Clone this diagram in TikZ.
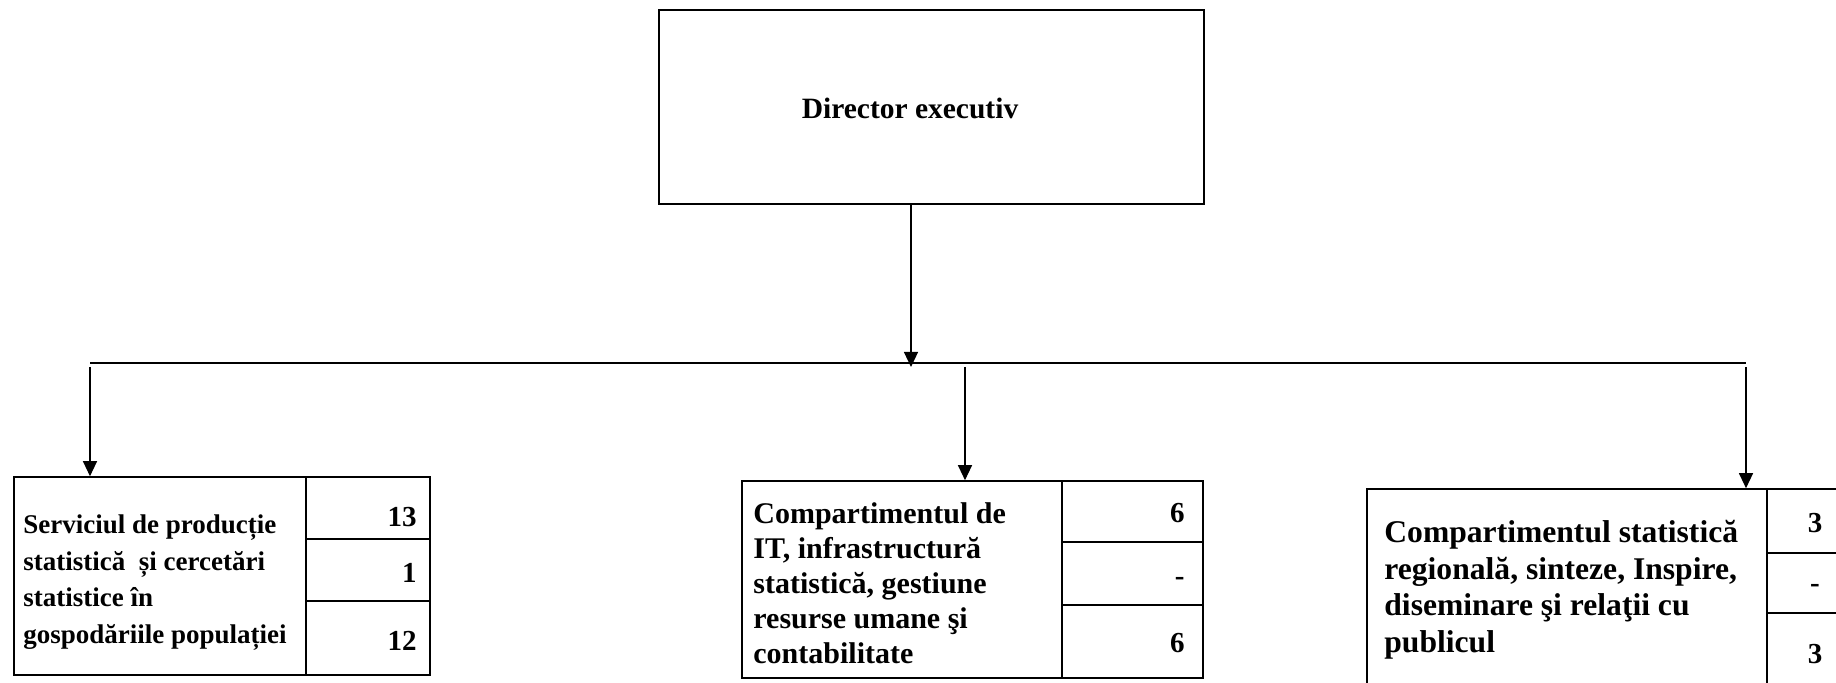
\documentclass[tikz,border=0pt]{standalone}
\usepackage{fontspec}
\setmainfont{Liberation Serif}
\usetikzlibrary{arrows.meta,positioning}
\tikzstyle{link} = [line width=0.6pt,-{Triangle[width=7pt,length=7.5pt]}]
\tikzstyle{busline} = [line width=0.6pt]
\tikzstyle{headbox} = [rectangle, draw, line width=1.1pt, inner sep=0pt]
\tikzstyle{unitbox} = [rectangle, draw, line width=0.8pt, inner sep=0pt]
\tikzstyle{unitline} = [line width=0.7pt]
\tikzstyle{unittext} = [inner sep=0pt, anchor=base west, align=left]
\tikzstyle{staffno} = [inner sep=0pt, anchor=base east, font=\fontsize{14.5}{16}\selectfont\bfseries]

\begin{document}
\begin{tikzpicture}[x=0.5pt,y=-0.5pt]
\useasboundingbox (0,0) rectangle (1836,683);
\clip (0,0) rectangle (1836,683);

% Director
\node (director) [headbox, minimum width=272.5pt, minimum height=97pt] at (931.5,107) {};
\node (directortext) [inner sep=0pt, anchor=base, font=\fontsize{14.75}{18}\selectfont\bfseries] at (910,119) {Director executiv};

% Bus
\coordinate (hub) at (911,367);
\coordinate (busleft) at (90,363);
\coordinate (busright) at (1746,363);
\draw[link] (director.south -| hub) -- (hub);
\draw[busline] (busleft) -- (busright);

% Units
\node (serv) [unitbox, minimum width=208pt, minimum height=99pt] at (222,576) {};
\node (comp) [unitbox, minimum width=230.5pt, minimum height=98.5pt] at (972.5,579.5) {};
\node (reg) [unitbox, minimum width=248pt, minimum height=115.5pt] at (1615,604.5) {};

% Cells
\draw[unitline] (306,477) -- (306,675);
\draw[unitline] (306,539) -- (430,539);
\draw[unitline] (306,601) -- (430,601);
\draw[unitline] (1062,481) -- (1062,678);
\draw[unitline] (1062,542) -- (1203,542);
\draw[unitline] (1062,605) -- (1203,605);
\draw[unitline] (1767,489) -- (1767,720);
\draw[unitline] (1767,553) -- (1863,553);
\draw[unitline] (1767,613) -- (1863,613);

% Texts (base = last line)
\node (servtext) [unittext, font=\fontsize{13.5}{18.2}\selectfont\bfseries] at (23,643)
  {Serviciul de producție\\statistică~ și cercetări\\statistice în\\gospodăriile populației};
\node (comptext) [unittext, font=\fontsize{15}{17.5}\selectfont\bfseries] at (753,663)
  {Compartimentul de\\IT, infrastructură\\statistică, gestiune\\resurse umane şi\\contabilitate};
\node (regtext) [unittext, font=\fontsize{15.8}{18.2}\selectfont\bfseries] at (1384,652)
  {Compartimentul statistică\\regională, sinteze, Inspire,\\diseminare şi relaţii cu\\publicul};

% Numbers
\node (servA) [staffno] at (417,527) {13};
\node (servB) [staffno] at (417,582) {1};
\node (servC) [staffno] at (417,650) {12};
\node (compA) [staffno] at (1185,523) {6};
\node (compB) [staffno] at (1185,586) {-};
\node (compC) [staffno] at (1185,653) {6};
\node (regA) [staffno, anchor=base] at (1815,533) {3};
\node (regB) [staffno, anchor=base] at (1815,593) {-};
\node (regC) [staffno, anchor=base] at (1815,663) {3};

% Drops
\coordinate (dropleft) at (90,367);
\coordinate (dropmid) at (965,367);
\coordinate (dropright) at (1746,367);
\draw[link] (dropleft) -- (dropleft |- serv.north);
\draw[link] (dropmid) -- (dropmid |- comp.north);
\draw[link] (dropright) -- (dropright |- reg.north);
\end{tikzpicture}
\end{document}
